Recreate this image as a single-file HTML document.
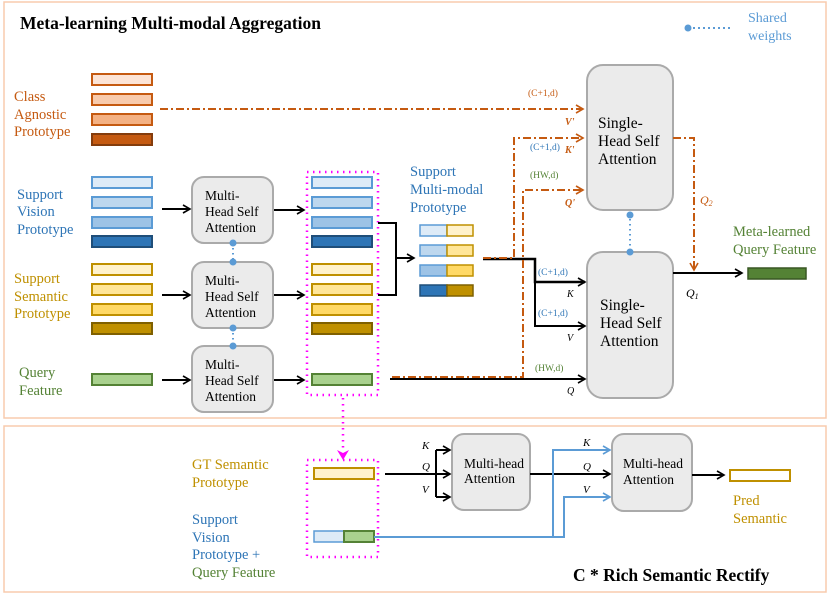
<!DOCTYPE html>
<html><head><meta charset="utf-8"><style>body{margin:0;background:#fff}svg{display:block}text{font-family:"Liberation Serif",serif}</style></head><body>
<svg width="830" height="598" viewBox="0 0 830 598" xmlns="http://www.w3.org/2000/svg">
<defs>
<marker id="ab" markerWidth="10" markerHeight="10" refX="8" refY="5" orient="auto" markerUnits="userSpaceOnUse"><path d="M1,1 L8,5 L1,9" fill="none" stroke="#000" stroke-width="1.6"/></marker>
<marker id="ao" markerWidth="10" markerHeight="10" refX="8" refY="5" orient="auto" markerUnits="userSpaceOnUse"><path d="M1,1 L8,5 L1,9" fill="none" stroke="#c55a11" stroke-width="1.6"/></marker>
<marker id="al" markerWidth="10" markerHeight="10" refX="8" refY="5" orient="auto" markerUnits="userSpaceOnUse"><path d="M1,1 L8,5 L1,9" fill="none" stroke="#5b9bd5" stroke-width="1.6"/></marker>
</defs>
<rect x="4" y="2" width="822" height="416" fill="none" stroke="#f8cbad" stroke-width="1.5"/>
<rect x="4" y="426" width="822" height="166" fill="none" stroke="#f8cbad" stroke-width="1.5"/>
<text x="20" y="29" font-size="17.5" font-weight="bold">Meta-learning Multi-modal Aggregation</text>
<line x1="688" y1="28" x2="732" y2="28" stroke="#5b9bd5" stroke-width="2" stroke-dasharray="2,3"/>
<circle cx="688" cy="28" r="3.5" fill="#5b9bd5"/>
<text x="748" y="22" font-size="14" fill="#5b9bd5">Shared</text><text x="748" y="40" font-size="14" fill="#5b9bd5">weights</text>
<g font-size="14.5">
<text x="14" y="101" fill="#c55a11">Class</text><text x="14" y="119" fill="#c55a11">Agnostic</text><text x="14" y="136" fill="#c55a11">Prototype</text>
<text x="17" y="199" fill="#2e75b6">Support</text><text x="17" y="216" fill="#2e75b6">Vision</text><text x="17" y="234" fill="#2e75b6">Prototype</text>
<text x="14" y="283" fill="#bf9000">Support</text><text x="14" y="301" fill="#bf9000">Semantic</text><text x="14" y="318" fill="#bf9000">Prototype</text>
<text x="19" y="377" fill="#548235">Query</text><text x="19" y="395" fill="#548235">Feature</text>
</g>
<g stroke-width="2">
<rect x="92" y="74" width="60" height="11" fill="#fce4d6" stroke="#c55a11"/>
<rect x="92" y="94" width="60" height="11" fill="#f8cbad" stroke="#c55a11"/>
<rect x="92" y="114" width="60" height="11" fill="#f4b183" stroke="#c55a11"/>
<rect x="92" y="134" width="60" height="11" fill="#c55a11" stroke="#843c0c"/>
<g id="vis"><rect x="92" y="177" width="60" height="11" fill="#deebf7" stroke="#5b9bd5"/>
<rect x="92" y="197" width="60" height="11" fill="#bdd7ee" stroke="#5b9bd5"/>
<rect x="92" y="217" width="60" height="11" fill="#9dc3e6" stroke="#5b9bd5"/>
<rect x="92" y="236" width="60" height="11" fill="#2e75b6" stroke="#1f4e79"/>
<rect x="92" y="264" width="60" height="11" fill="#fff2cc" stroke="#bf9000"/>
<rect x="92" y="284" width="60" height="11" fill="#ffe699" stroke="#bf9000"/>
<rect x="92" y="304" width="60" height="11" fill="#ffd966" stroke="#bf9000"/>
<rect x="92" y="323" width="60" height="11" fill="#bf9000" stroke="#7f6000"/>
<rect x="92" y="374" width="60" height="11" fill="#a9d18e" stroke="#548235"/></g>
<use href="#vis" x="220"/>
</g>
<rect x="307" y="172" width="71" height="223" fill="none" stroke="#f0f" stroke-width="2.5" stroke-dasharray="1.5,4.5"/>
<g fill="#ebebeb" stroke="#aaa" stroke-width="2">
<rect x="192" y="177" width="81" height="66" rx="12"/>
<rect x="192" y="262" width="81" height="66" rx="12"/>
<rect x="192" y="346" width="81" height="66" rx="12"/>
<rect x="587" y="65" width="86" height="145" rx="16"/>
<rect x="587" y="252" width="86" height="146" rx="16"/>
<rect x="452" y="434" width="78" height="76" rx="12"/>
<rect x="612" y="434" width="80" height="77" rx="12"/>
</g>
<g font-size="13.5">
<text x="205" y="200">Multi-</text><text x="205" y="216">Head Self</text><text x="205" y="232">Attention</text>
<text x="205" y="285">Multi-</text><text x="205" y="301">Head Self</text><text x="205" y="317">Attention</text>
<text x="205" y="369">Multi-</text><text x="205" y="385">Head Self</text><text x="205" y="401">Attention</text>
<text x="464" y="468">Multi-head</text><text x="464" y="483">Attention</text>
<text x="623" y="468">Multi-head</text><text x="623" y="484">Attention</text>
</g>
<g font-size="15.5">
<text x="598" y="128">Single-</text><text x="598" y="146">Head Self</text><text x="598" y="164">Attention</text>
<text x="600" y="310">Single-</text><text x="600" y="328">Head Self</text><text x="600" y="346">Attention</text>
</g>
<g stroke="#5b9bd5" stroke-width="2" stroke-dasharray="1.5,3.5" fill="#5b9bd5">
<line x1="233" y1="243" x2="233" y2="262"/><line x1="233" y1="328" x2="233" y2="346"/><line x1="630" y1="214" x2="630" y2="250"/>
</g>
<g fill="#5b9bd5"><circle cx="233" cy="243" r="3.5"/><circle cx="233" cy="262" r="3.5"/><circle cx="233" cy="328" r="3.5"/><circle cx="233" cy="346" r="3.5"/><circle cx="630" cy="215" r="3.5"/><circle cx="630" cy="252" r="3.5"/></g>
<g stroke="#000" stroke-width="2" fill="none">
<line x1="162" y1="209" x2="190" y2="209" marker-end="url(#ab)"/>
<line x1="162" y1="295" x2="190" y2="295" marker-end="url(#ab)"/>
<line x1="162" y1="380" x2="190" y2="380" marker-end="url(#ab)"/>
<line x1="274" y1="210" x2="304" y2="210" marker-end="url(#ab)"/>
<line x1="274" y1="295" x2="304" y2="295" marker-end="url(#ab)"/>
<line x1="274" y1="380" x2="304" y2="380" marker-end="url(#ab)"/>
<polyline points="378,223 396,223 396,295 378,295"/>
<line x1="396" y1="258" x2="414" y2="258" marker-end="url(#ab)"/>
<polyline points="483,259 535,259 535,282 585,282" stroke-width="2.5" marker-end="url(#ab)"/>
<polyline points="535,282 535,326 585,326" marker-end="url(#ab)"/>
<line x1="390" y1="379" x2="585" y2="379" marker-end="url(#ab)"/>
<line x1="673" y1="273" x2="742" y2="273" marker-end="url(#ab)"/>
<line x1="385" y1="474" x2="450" y2="474" marker-end="url(#ab)"/>
<polyline points="436,450 436,497"/>
<line x1="436" y1="450" x2="450" y2="450" marker-end="url(#ab)"/>
<line x1="436" y1="497" x2="450" y2="497" marker-end="url(#ab)"/>
<line x1="530" y1="474" x2="610" y2="474" marker-end="url(#ab)"/>
<line x1="692" y1="475" x2="724" y2="475" marker-end="url(#ab)"/>
</g>
<g stroke="#c55a11" stroke-width="2" fill="none" stroke-dasharray="8,3,2,3">
<line x1="160" y1="109" x2="583" y2="109" marker-end="url(#ao)"/>
<polyline points="483,258 514,258 514,138 583,138" marker-end="url(#ao)"/>
<polyline points="392,377 523,377 523,190 583,190" marker-end="url(#ao)"/>
<polyline points="673,138 694,138 694,270" marker-end="url(#ao)"/>
</g>
<g stroke-width="1.5">
<rect x="420" y="225" width="27" height="11" fill="#deebf7" stroke="#5b9bd5"/><rect x="447" y="225" width="26" height="11" fill="#fff2cc" stroke="#bf9000"/>
<rect x="420" y="245" width="27" height="11" fill="#bdd7ee" stroke="#5b9bd5"/><rect x="447" y="245" width="26" height="11" fill="#ffe699" stroke="#bf9000"/>
<rect x="420" y="265" width="27" height="11" fill="#9dc3e6" stroke="#5b9bd5"/><rect x="447" y="265" width="26" height="11" fill="#ffd966" stroke="#bf9000"/>
<rect x="420" y="285" width="27" height="11" fill="#2e75b6" stroke="#1f4e79"/><rect x="447" y="285" width="26" height="11" fill="#bf9000" stroke="#7f6000"/>
<rect x="748" y="268" width="58" height="11" fill="#548235" stroke="#385723"/>
</g>
<g font-size="14.5" fill="#2e75b6"><text x="410" y="176">Support</text><text x="410" y="194">Multi-modal</text><text x="410" y="212">Prototype</text></g>
<text x="733" y="236" font-size="14.5" fill="#548235">Meta-learned</text><text x="733" y="254" font-size="14.5" fill="#548235">Query Feature</text>
<g font-size="9.5">
<text x="528" y="96" fill="#c55a11">(C+1,d)</text><text x="530" y="150" fill="#2e75b6">(C+1,d)</text><text x="530" y="178" fill="#548235">(HW,d)</text>
<text x="538" y="275" fill="#2e75b6">(C+1,d)</text><text x="538" y="316" fill="#2e75b6">(C+1,d)</text><text x="535" y="371" fill="#548235">(HW,d)</text>
</g>
<g font-size="10" font-style="italic">
<text x="565" y="125" fill="#c55a11" font-weight="bold">V'</text><text x="565" y="153" fill="#c55a11" font-weight="bold">K'</text><text x="565" y="206" fill="#c55a11" font-weight="bold">Q'</text>
<text x="700" y="204" fill="#c55a11" font-size="12">Q<tspan font-size="8" dy="2">2</tspan></text>
<text x="567" y="297">K</text><text x="567" y="341">V</text><text x="567" y="394">Q</text>
<text x="686" y="297" font-size="12">Q<tspan font-size="8" dy="2">1</tspan></text>
<text x="422" y="449" font-size="11">K</text><text x="422" y="470" font-size="11">Q</text><text x="422" y="493" font-size="11">V</text>
<text x="583" y="446" font-size="11">K</text><text x="583" y="470" font-size="11">Q</text><text x="583" y="493" font-size="11">V</text>
</g>
<line x1="343" y1="398" x2="343" y2="452" stroke="#f0f" stroke-width="2.5" stroke-dasharray="1.5,4.5"/>
<path d="M337,450 L343,460 L349,450 L343,453Z" fill="#f0f"/>
<rect x="307" y="460" width="71" height="97" fill="none" stroke="#f0f" stroke-width="2.5" stroke-dasharray="1.5,4.5"/>
<rect x="314" y="468" width="60" height="11" fill="#fff2cc" stroke="#bf9000" stroke-width="2"/>
<rect x="314" y="531" width="30" height="11" fill="#deebf7" stroke="#5b9bd5" stroke-width="1.5"/>
<rect x="344" y="531" width="30" height="11" fill="#a9d18e" stroke="#548235" stroke-width="2"/>
<g stroke="#5b9bd5" stroke-width="2" fill="none">
<polyline points="374,537 553,537 553,450 610,450" marker-end="url(#al)"/>
<polyline points="553,537 564,537 564,497 610,497" marker-end="url(#al)"/>
</g>
<rect x="730" y="470" width="60" height="11" fill="#fff" stroke="#bf9000" stroke-width="2"/>
<g font-size="14.5">
<text x="192" y="469" fill="#bf9000">GT Semantic</text><text x="192" y="487" fill="#bf9000">Prototype</text>
<text x="192" y="524" fill="#2e75b6">Support</text><text x="192" y="542" fill="#2e75b6">Vision</text><text x="192" y="559" fill="#2e75b6">Prototype +</text><text x="192" y="577" fill="#548235">Query Feature</text>
<text x="733" y="505" fill="#bf9000">Pred</text><text x="733" y="523" fill="#bf9000">Semantic</text>
</g>
<text x="573" y="581" font-size="17.5" font-weight="bold">C * Rich Semantic Rectify</text>
</svg>
</body></html>
